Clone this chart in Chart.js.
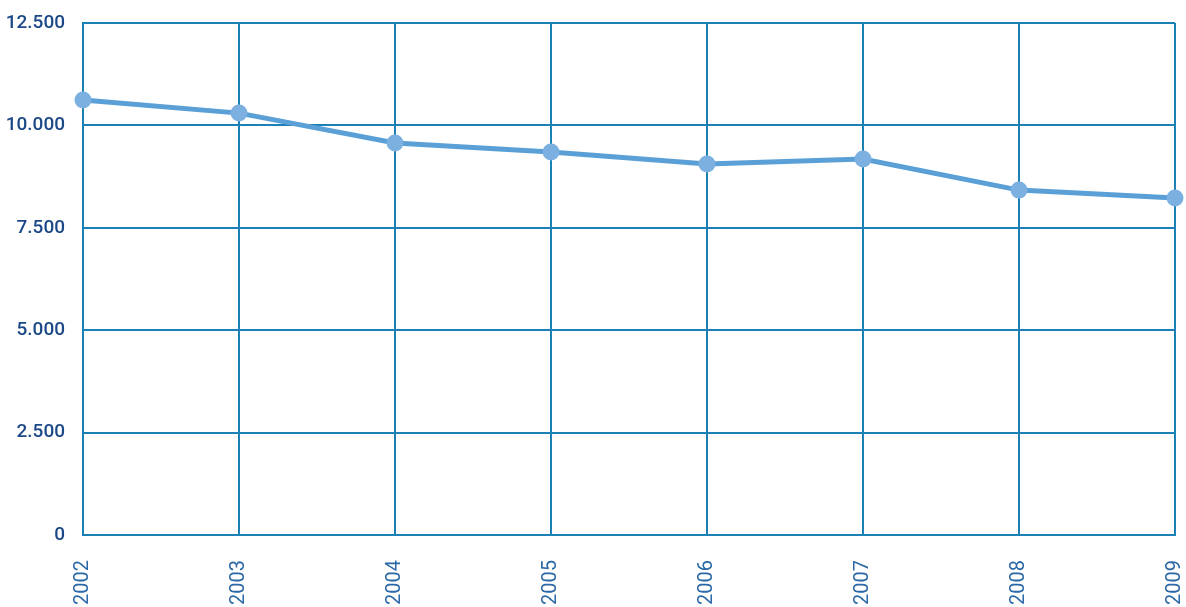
<!DOCTYPE html>
<html>
<head>
<meta charset="utf-8">
<script src="https://cdn.jsdelivr.net/npm/chart.js@4/dist/chart.umd.min.js"></script>
<style>
html,body{margin:0;padding:0;background:#fff;}
#wrap{width:1186px;height:607px;position:relative;}
</style>
</head>
<body>
<div id="wrap"><canvas id="c"></canvas></div>
<script>
const years = ["2002","2003","2004","2005","2006","2007","2008","2009"];
const values = [10620, 10300, 9570, 9350, 9060, 9180, 8420, 8230];
const yTicks = [0, 2500, 5000, 7500, 10000, 12500];

function fmt(v){ return String(v).replace(/\B(?=(\d{3})+(?!\d))/g, "."); }

const gridColor = "#1a80b6";
const fam = "Roboto, sans-serif";
new Chart(document.getElementById("c"), {
  type: "line",
  data: {
    labels: years,
    datasets: [{
      data: values,
      borderColor: "#5aa0d6",
      backgroundColor: "#7cb0e0",
      pointBackgroundColor: "#7cb0e0",
      pointBorderColor: "#7cb0e0",
      borderWidth: 5,
      pointRadius: 6,
      tension: 0,
      fill: false
    }]
  },
  options: {
    responsive: true,
    maintainAspectRatio: false,
    animation: false,
    layout: { padding: { left: 0, right: 6, top: 23, bottom: 0 } },
    plugins: { legend: { display: false }, tooltip: { enabled: false } },
    scales: {
      x: {
        offset: false,
        grid: { color: gridColor, lineWidth: 2, drawTicks: false },
        border: { color: gridColor, width: 2 },
        ticks: {
          color: "#2a68a6",
          font: { family: fam, size: 20 },
          maxRotation: 90, minRotation: 90,
          padding: 25
        },
        afterFit: (s) => { s.paddingLeft = 0; s.paddingRight = 0; s.height = 72; }
      },
      y: {
        min: 0, max: 12500,
        afterBuildTicks: (axis) => { axis.ticks = yTicks.map(v => ({ value: v })); },
        grid: { color: gridColor, lineWidth: 2, drawTicks: false },
        border: { color: gridColor, width: 2 },
        ticks: {
          color: "#1b4887",
          font: { family: fam, size: 19, weight: "500" },
          padding: 18,
          callback: (v) => fmt(v)
        },
        afterFit: (s) => { s.paddingTop = 0; s.paddingBottom = 0; s.width = 83; }
      }
    }
  }
});
</script>
</body>
</html>
